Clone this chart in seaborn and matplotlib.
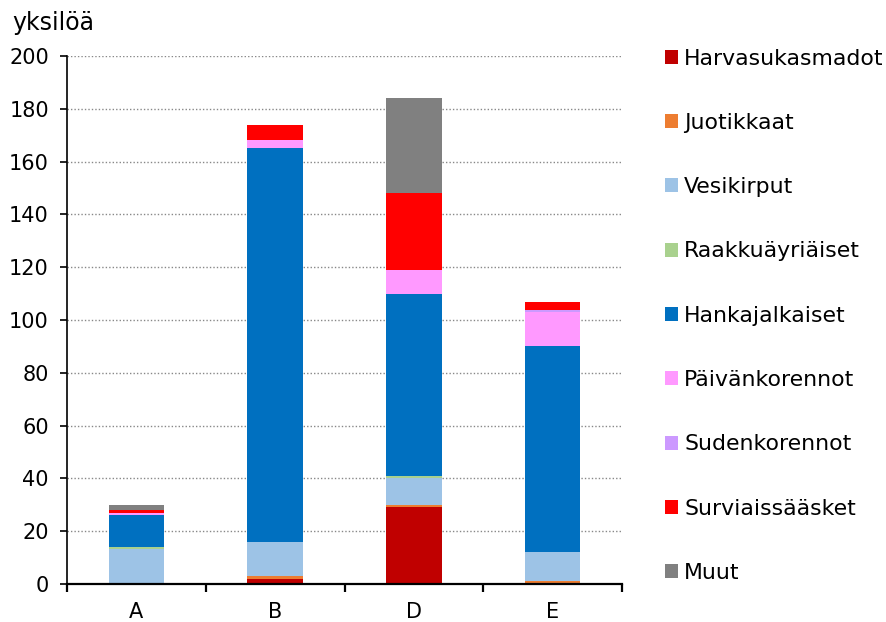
"""
Pohjaeläimet näytepaikoittain, pinottu pylväskuvio
"""

import matplotlib.pyplot as plt
import numpy as np
import seaborn as sns
from matplotlib.patches import Patch

# -----------------------------
# Data
# -----------------------------
sites = ["A", "B", "D", "E"]

groups = [
    "Harvasukasmadot",
    "Juotikkaat",
    "Vesikirput",
    "Raakkuäyriäiset",
    "Hankajalkaiset",
    "Päivänkorennot",
    "Sudenkorennot",
    "Surviaissääsket",
    "Muut",
]

harvasukasmadot = [0, 2, 29, 0]
juotikkaat = [0, 1, 1, 1]
vesikirput = [13.3, 13, 10, 11]
raakkuayriaiset = [0.7, 0, 1, 0]
hankajalkaiset = [12, 149, 69, 78]
paivankorennot = [1, 3, 9, 13.2]
sudenkorennot = [0, 0, 0, 0.7]
surviaissaasket = [1, 6, 29, 3.1]
muut = [2, 0, 36, 0]

colors = [
    "#C00000", "#ED7D31", "#9DC3E6", "#A9D18E", "#0070C0",
    "#FF99FF", "#CC99FF", "#FF0000", "#808080",
]

series = [
    harvasukasmadot, juotikkaat, vesikirput, raakkuayriaiset,
    hankajalkaiset, paivankorennot, sudenkorennot, surviaissaasket, muut,
]

# -----------------------------
# Style
# -----------------------------
sns.set_theme(style="white")
plt.rcParams["font.family"] = ["DejaVu Sans"]
plt.rcParams["font.size"] = 15
plt.rcParams["text.color"] = "black"

fig = plt.figure(figsize=(8.86, 6.22), dpi=100)
ax = fig.add_axes([0.0756, 0.061, 0.6265, 0.849])

# -----------------------------
# Stacked bars
# -----------------------------
bottom = np.zeros(len(sites))
for name, values, color in zip(groups, series, colors):
    values = np.array(values, dtype=float)
    sns.barplot(
        x=sites, y=values, bottom=bottom, color=color, saturation=1,
        width=0.4, errorbar=None, ax=ax, linewidth=0,
    )
    bottom += values

ax.set_xlim(-0.5, len(sites) - 0.5)
ax.set_ylim(0, 200)
ax.set_yticks(range(0, 201, 20))
ax.yaxis.grid(True, linestyle=(0, (1, 1.5)), color="#888888", linewidth=1)
ax.set_axisbelow(True)

for side in ["top", "right"]:
    ax.spines[side].set_visible(False)
ax.spines["left"].set_color("black")
ax.spines["bottom"].set_color("black")
ax.spines["bottom"].set_linewidth(1.6)
ax.spines["left"].set_linewidth(1.2)

ax.tick_params(axis="y", left=True, length=5, width=1.2, direction="out",
               labelsize=15, color="black", labelcolor="black", pad=8)
ax.set_xticks(range(len(sites)))
ax.set_xticklabels(sites, fontsize=15)
ax.tick_params(axis="x", bottom=False, labelsize=15, pad=7, labelcolor="black")
# category boundary ticks
ax.set_xticks(np.arange(-0.5, len(sites), 1), minor=True)
ax.tick_params(axis="x", which="minor", bottom=True, length=6, width=1.6,
               direction="out", color="black")
ax.set_xlabel("")
ax.set_ylabel("")

fig.text(0.014, 0.963, "yksilöä", fontsize=17, ha="left", va="center",
         color="black")

# -----------------------------
# Legend
# -----------------------------
handles = [Patch(facecolor=c, edgecolor="none") for c in colors]
leg = fig.legend(
    handles, groups, loc="upper left", bbox_to_anchor=(0.75, 0.922),
    frameon=False, fontsize=15.8, handlelength=0.6, handleheight=0.6,
    handletextpad=0.3, labelspacing=2.02, borderpad=0, borderaxespad=0,
)
for t in leg.get_texts():
    t.set_color("black")

fig.savefig("out.png", dpi=100)
